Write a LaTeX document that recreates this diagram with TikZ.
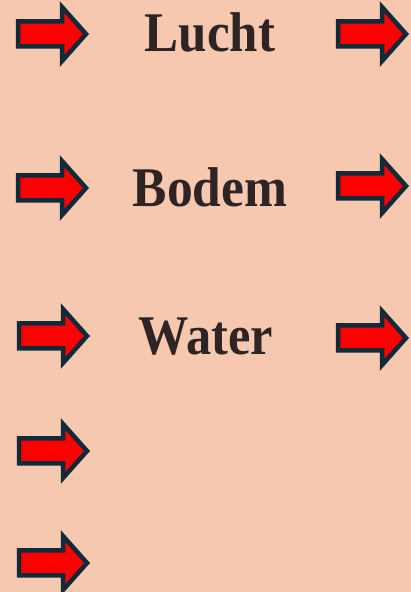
\documentclass[tikz,border=0pt]{standalone}
\usepackage{fontspec}
\setmainfont{Liberation Serif}
\usepackage{graphicx}
\definecolor{bg}{HTML}{F6C8B0}
\definecolor{arrowred}{HTML}{FF0000}
\definecolor{arrowedge}{HTML}{102A3A}
\definecolor{txt}{HTML}{2E2424}
\newcommand\wordfont{\fontsize{56}{62}\selectfont\bfseries}
\tikzset{
  arrowstyle/.style={fill=arrowred,draw=arrowedge,line width=4.5pt,line join=miter,miter limit=10},
  rarrow/.pic={\draw[arrowstyle] (2.2,12.5) -- (46,12.5) -- (46,27) -- (70,0) -- (46,-27) -- (46,-12.5) -- (2.2,-12.5) -- cycle;},
  word/.style={anchor=base,text=txt,inner sep=0pt}
}
\begin{document}
\begin{tikzpicture}[x=1pt,y=1pt]
\fill[bg] (0,0) rectangle (411,592);
\useasboundingbox (0,0) rectangle (411,592);
% left column
\pic at (16,558) {rarrow};
\pic at (16,404) {rarrow};
\pic at (17,256) {rarrow};
\pic at (17,141) {rarrow};
\pic at (17,29) {rarrow};
% right column
\pic at (336,558) {rarrow};
\pic at (336,406) {rarrow};
\pic at (336,254) {rarrow};
% labels
\node[word] (lucht) at (210,540) {\wordfont\scalebox{0.91}[1]{Lucht}};
\node[word] (bodem) at (210,385) {\wordfont\scalebox{0.92}[1]{Bodem}};
\node[word] (water) at (206,237) {\wordfont\scalebox{0.90}[1]{Water}};
\end{tikzpicture}
\end{document}
